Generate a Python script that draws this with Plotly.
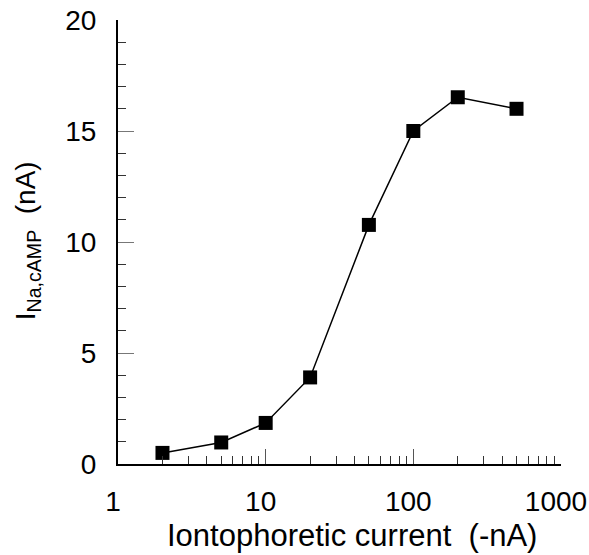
import plotly.graph_objects as go

current_nA = [2, 5, 10, 20, 50, 100, 200, 500]
i_na_camp = [0.5, 0.97, 1.85, 3.9, 10.77, 15.0, 16.52, 16.0]

x_major_ticks = [1, 10, 100, 1000]
x_major_labels = ["1", "10", "100", "1000"]
x_minor_ticks = [2, 3, 4, 5, 6, 7, 8, 9,
                 20, 30, 40, 50, 60, 70, 80, 90,
                 200, 300, 400, 500, 600, 700, 800, 900]
y_major_ticks = [0, 5, 10, 15, 20]

FONT = "Liberation Sans, Arial, sans-serif"

fig = go.Figure()
fig.add_trace(go.Scatter(
    x=current_nA, y=i_na_camp, mode="lines+markers",
    line=dict(color="black", width=1.5),
    marker=dict(symbol="square", size=14, color="black"),
    showlegend=False,
))

fig.update_layout(
    width=589, height=555,
    margin=dict(l=118, r=28, t=20, b=91),
    plot_bgcolor="white", paper_bgcolor="white",
    font=dict(family=FONT, color="black"),
    xaxis=dict(
        type="log", range=[-0.0002, 3.0002], automargin=False,
        tickmode="array", tickvals=x_major_ticks, ticktext=x_major_labels,
        ticks="inside", ticklen=15, tickwidth=1, tickcolor="#555",
        tickfont=dict(size=28, family=FONT),
        ticklabelstandoff=11, ticklabelshift=-5, ticklabeloverflow="allow",
        showline=True, linecolor="black", linewidth=2,
        showgrid=False, zeroline=False,
        minor=dict(tickmode="array", tickvals=x_minor_ticks, ticks="inside",
                   ticklen=8, tickwidth=1, tickcolor="#333", showgrid=False),
    ),
    yaxis=dict(
        range=[0, 20], automargin=False,
        tickmode="array", tickvals=y_major_ticks,
        ticks="inside", ticklen=16, tickwidth=1, tickcolor="#777",
        tickfont=dict(size=28, family=FONT),
        ticklabelstandoff=14,
        showline=True, linecolor="black", linewidth=2,
        showgrid=False, zeroline=False,
        minor=dict(dtick=1, ticks="inside", ticklen=8, tickwidth=1,
                   tickcolor="#333", showgrid=False),
    ),
    annotations=[
        dict(text="Iontophoretic current\u00a0\u00a0(-nA)", xref="paper", yref="paper",
             x=0.529, y=-0.162, xanchor="center", yanchor="middle",
             showarrow=False, font=dict(size=31, family=FONT)),
        dict(text="I<sub>Na,cAMP</sub>\u00a0\u00a0(nA)", xref="paper", yref="paper",
             x=-0.205, y=0.502, xanchor="center", yanchor="middle", textangle=-90,
             showarrow=False, font=dict(size=28, family=FONT)),
    ],
)

fig.write_html("out.html")
